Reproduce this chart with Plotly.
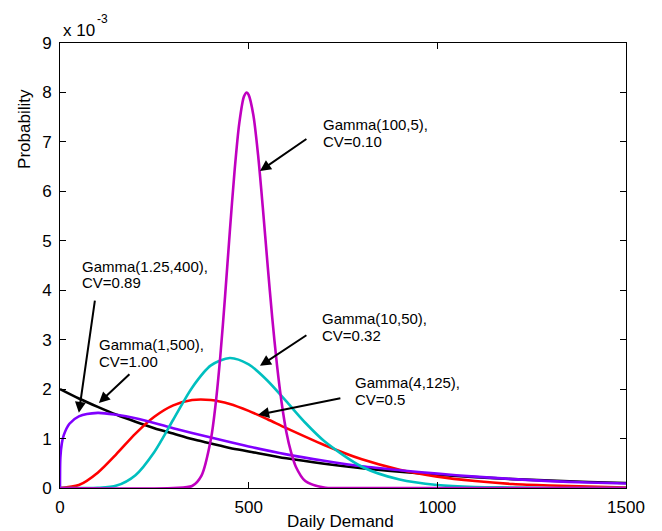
import plotly.graph_objects as go

# ---- data (probability values in units of 1e-3) ----
x_black = [0, 50, 100, 150, 200, 250, 300, 350, 400, 450, 500, 600, 700, 800, 900, 1000, 1100, 1200, 1300, 1400, 1500]
y_black = [2.00, 1.81, 1.64, 1.48, 1.34, 1.21, 1.10, 0.99, 0.90, 0.81, 0.74, 0.60, 0.49, 0.40, 0.33, 0.27, 0.22, 0.18, 0.15, 0.12, 0.10]

x_purple = [0, 1, 5, 10, 25, 50, 100, 150, 200, 300, 400, 500, 600, 700, 800, 900, 1000, 1100, 1200, 1300, 1400, 1500]
y_purple = [0, 0.62, 0.91, 1.07, 1.30, 1.45, 1.52, 1.48, 1.41, 1.21, 1.02, 0.84, 0.68, 0.55, 0.44, 0.36, 0.29, 0.23, 0.18, 0.14, 0.11, 0.09]

x_red = [0, 50, 100, 150, 200, 250, 300, 350, 400, 450, 500, 550, 600, 700, 800, 900, 1000, 1100, 1200, 1300, 1400, 1500]
y_red = [0, 0.06, 0.31, 0.69, 1.10, 1.44, 1.67, 1.78, 1.78, 1.70, 1.56, 1.39, 1.21, 0.87, 0.58, 0.37, 0.23, 0.14, 0.08, 0.05, 0.03, 0.01]

x_cyan = [0, 50, 100, 150, 200, 250, 300, 350, 400, 450, 500, 550, 600, 650, 700, 800, 900, 1000, 1100, 1200, 1300, 1500]
y_cyan = [0, 0, 0.004, 0.05, 0.26, 0.73, 1.38, 2.03, 2.48, 2.63, 2.50, 2.17, 1.75, 1.32, 0.95, 0.43, 0.17, 0.06, 0.02, 0.01, 0, 0]

x_mag = [0, 300, 350, 375, 400, 412.5, 425, 437.5, 450, 462.5, 475, 487.5, 495, 500, 512.5, 525, 537.5, 550,
         562.5, 575, 587.5, 600, 612.5, 625, 650, 700, 750, 1500]
y_mag = [0, 0, 0.04, 0.25, 0.99, 1.70, 2.68, 3.88, 5.18, 6.40, 7.37, 7.92, 8.00, 7.95, 7.54, 6.73, 5.67, 4.53,
         3.44, 2.49, 1.72, 1.13, 0.72, 0.43, 0.14, 0.01, 0, 0]

x_ticks = [0, 500, 1000, 1500]
y_ticks = [0, 1, 2, 3, 4, 5, 6, 7, 8, 9]

# label lines: (text, x_left, y_center)
labels = [
    ("Gamma(100,5),", 693, 7.36), ("CV=0.10", 693, 7.01),
    ("Gamma(1.25,400),", 53, 4.48), ("CV=0.89", 53, 4.15),
    ("Gamma(1,500),", 97, 2.91), ("CV=1.00", 97, 2.56),
    ("Gamma(10,50),", 689, 3.42), ("CV=0.32", 689, 3.08),
    ("Gamma(4,125),", 777, 2.13), ("CV=0.5", 777, 1.78),
]
# arrows: (head_x, head_y, tail_x, tail_y)
arrows = [
    (530, 6.41, 657, 7.08),
    (50, 1.52, 93, 3.82),
    (103, 1.72, 188, 2.33),
    (530, 2.47, 657, 3.11),
    (525, 1.48, 747, 1.82),
]

FONT = "Liberation Sans, Arial, Helvetica, sans-serif"

fig = go.Figure()
series = [
    (x_black, y_black, "#000000"),
    (x_red, y_red, "#ff0000"),
    (x_purple, y_purple, "#8000ff"),
    (x_cyan, y_cyan, "#00bfbf"),
    (x_mag, y_mag, "#c000c0"),
]
for xs, ys, col in series:
    fig.add_trace(go.Scatter(x=xs, y=ys, mode="lines",
                             line=dict(color=col, width=2.6, shape="spline", smoothing=0.8),
                             showlegend=False, hoverinfo="skip"))

for t, xl, yc in labels:
    fig.add_annotation(x=xl, y=yc, xref="x", yref="y", text=t, showarrow=False,
                       xanchor="left", yanchor="middle",
                       font=dict(family=FONT, size=15, color="black"))

for hx, hy, tx, ty in arrows:
    fig.add_annotation(x=hx, y=hy, ax=tx, ay=ty, xref="x", yref="y", axref="x", ayref="y",
                       text="", showarrow=True, arrowhead=2, arrowsize=1.1, arrowwidth=2,
                       arrowcolor="black")

# axis titles and exponent
fig.add_annotation(x=-0.0618, y=0.807, xref="paper", yref="paper", text="Probability",
                   textangle=-90, showarrow=False, xanchor="center", yanchor="middle",
                   font=dict(family=FONT, size=17, color="black"))
fig.add_annotation(x=0.495, y=-0.0764, xref="paper", yref="paper", text="Daily Demand",
                   showarrow=False, xanchor="center", yanchor="middle",
                   font=dict(family=FONT, size=17, color="black"))
fig.add_annotation(x=0.0018, y=1.027, xref="paper", yref="paper", text="x 10",
                   showarrow=False, xanchor="left", yanchor="middle",
                   font=dict(family=FONT, size=17, color="black"))
fig.add_annotation(x=0.0618, y=1.053, xref="paper", yref="paper", text="-3",
                   showarrow=False, xanchor="left", yanchor="middle",
                   font=dict(family=FONT, size=12, color="black"))

axis_common = dict(showgrid=False, zeroline=False, showline=True, linecolor="black", linewidth=1,
                   mirror="ticks", ticks="inside", ticklen=6, tickwidth=1, tickcolor="black",
                   tickfont=dict(family=FONT, size=17, color="black"), ticklabelstandoff=4)

fig.update_xaxes(range=[0, 1500], tickvals=x_ticks, ticktext=[str(v) for v in x_ticks], **axis_common)
fig.update_yaxes(range=[0, 9], tickvals=y_ticks, ticktext=[str(v) for v in y_ticks], **axis_common)

# the page body adds an 8px margin, so the figure is sized and offset to compensate
fig.update_layout(width=654, height=523, margin=dict(l=52, r=36, t=35, b=43),
                  plot_bgcolor="white", paper_bgcolor="white")

fig.write_html("out.html")
